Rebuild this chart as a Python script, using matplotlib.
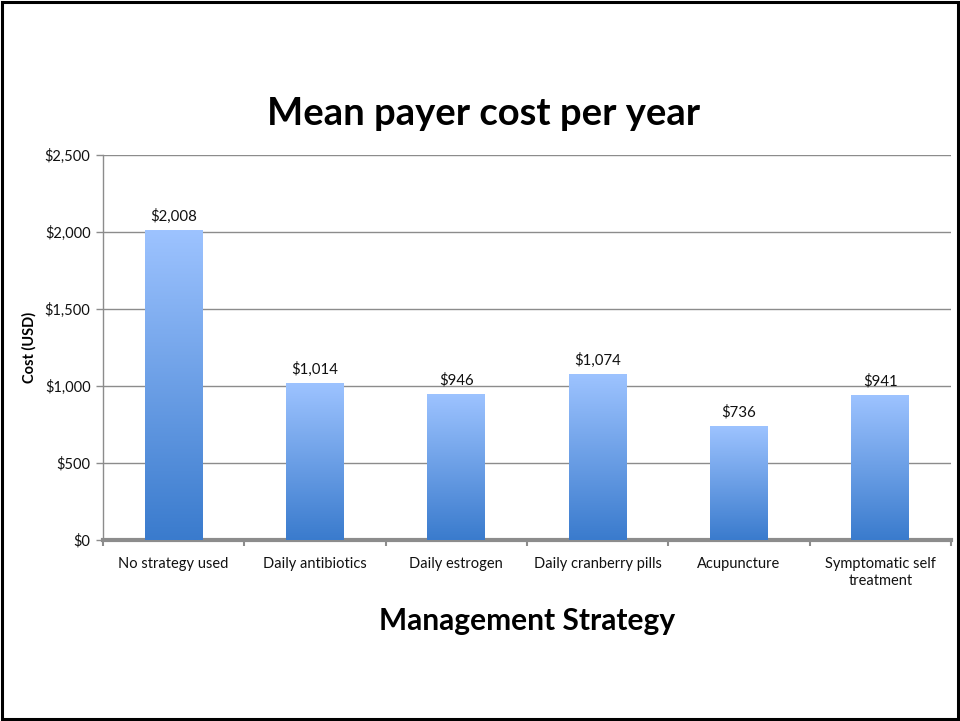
import matplotlib.pyplot as plt
import numpy as np
from matplotlib.colors import LinearSegmentedColormap
from matplotlib.patches import Rectangle
from matplotlib.ticker import FuncFormatter, FixedLocator

plt.rcParams["font.family"] = ["Lato", "DejaVu Sans"]

categories = [
    "No strategy used",
    "Daily antibiotics",
    "Daily estrogen",
    "Daily cranberry pills",
    "Acupuncture",
    "Symptomatic self\ntreatment",
]
costs = [2008, 1014, 946, 1074, 736, 941]
y_ticks = [0, 500, 1000, 1500, 2000, 2500]

fig = plt.figure(figsize=(9.6, 7.21), dpi=100)
ax = fig.add_axes([0.1073, 0.2510, 0.8833, 0.534])

# slide border
fig.patches.append(Rectangle((0.002, 0.003), 0.996, 0.994, transform=fig.transFigure,
                             fill=False, edgecolor="black", linewidth=2.2))

grad = LinearSegmentedColormap.from_list("bar", ["#3a7bcd", "#9dc3ff"])
x = np.arange(len(categories))
width = 0.41
bars = ax.bar(x, costs, width=width, color="none", zorder=3)
for b, v in zip(bars, costs):
    x0 = b.get_x()
    g = np.linspace(0, 1, 256).reshape(-1, 1)
    ax.imshow(g, cmap=grad, origin="lower", aspect="auto", zorder=3,
              extent=[x0, x0 + b.get_width(), 0, v], interpolation="bilinear")
    ax.text(b.get_x() + b.get_width() / 2, v + 45, f"${v:,}", ha="center",
            va="bottom", fontsize=10.8, color="#111111", zorder=4)

ax.set_xlim(-0.5, len(categories) - 0.5)
ax.set_ylim(0, 2500)
ax.yaxis.set_major_locator(FixedLocator(y_ticks))
ax.yaxis.set_major_formatter(FuncFormatter(lambda v, p: f"${int(v):,}"))
ax.grid(axis="y", color="#8c8c8c", linewidth=1.0, zorder=1)
ax.set_axisbelow(True)

ax.set_xticks(x)
ax.set_xticklabels(categories, fontsize=10.5, color="#111111", linespacing=1.3)
ax.set_xticks(np.arange(-0.5, len(categories)), minor=True)
ax.tick_params(axis="x", which="major", length=0, pad=12)
ax.tick_params(axis="x", which="minor", length=4, width=1.5, color="#8c8c8c", direction="out")
ax.tick_params(axis="y", length=5, width=1, color="#8c8c8c", labelsize=10.5,
               labelcolor="#111111", pad=4)

for s in ["top", "right"]:
    ax.spines[s].set_visible(False)
ax.spines["left"].set_color("#8c8c8c")
ax.spines["left"].set_linewidth(1.0)
ax.spines["bottom"].set_color("#8c8c8c")
ax.spines["bottom"].set_linewidth(3.0)

ax.set_ylabel("Cost (USD)", fontsize=10.5, fontweight="bold", labelpad=6)
ax.set_xlabel("Management Strategy", fontsize=21.5, fontweight="bold", labelpad=14)
fig.text(0.504, 0.842, "Mean payer cost per year", ha="center", va="center",
         fontsize=27.5, fontweight="bold")

fig.savefig("out.png", dpi=100)
